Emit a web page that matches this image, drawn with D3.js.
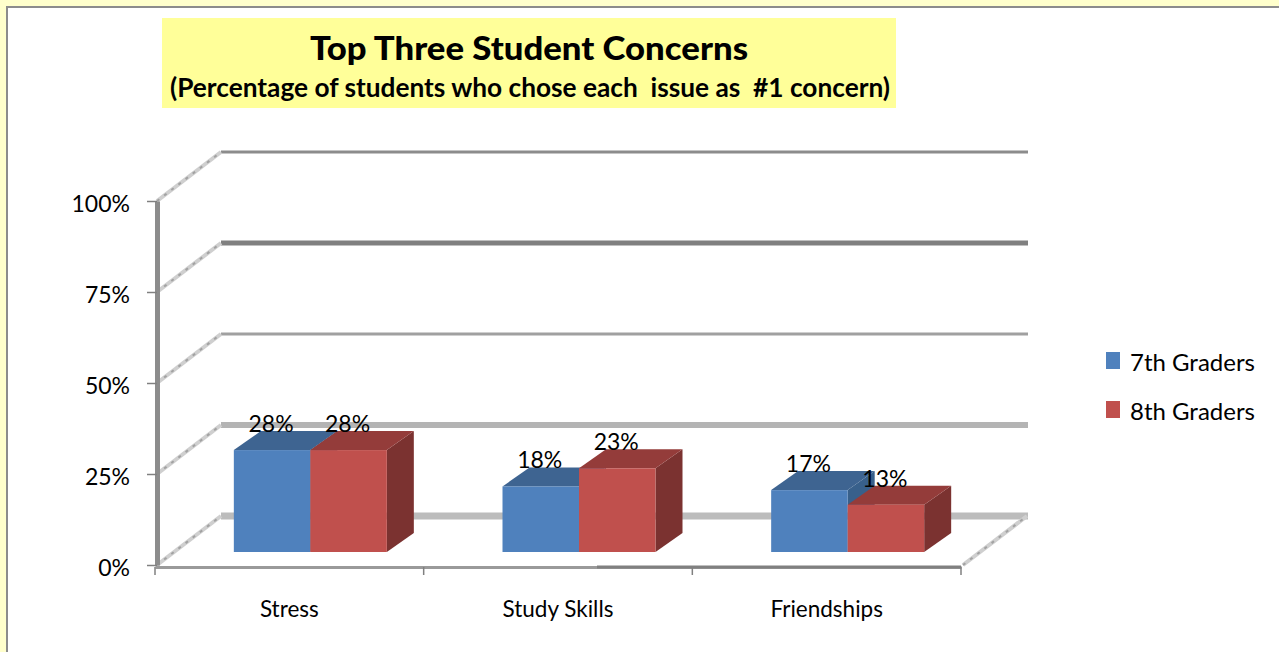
<!DOCTYPE html>
<html>
<head>
<meta charset="utf-8">
<script src="https://cdn.jsdelivr.net/npm/d3@7"></script>
<style>
body { margin: 0; background: #ffffcc; }
text { font-family: Lato, "Open Sans", sans-serif; fill: #000; }
</style>
</head>
<body>
<svg id="chart" width="1279" height="652"></svg>
<script>
var categories = ["Stress", "Study Skills", "Friendships"];
var seriesNames = ["7th Graders", "8th Graders"];
var grade7 = [28, 18, 17];
var grade8 = [28, 23, 13];
var yTicks = [0, 25, 50, 75, 100];
var titleText = "Top Three Student Concerns";
var subtitleText = "(Percentage of students who chose each  issue as  #1 concern)";

// colours for front, top and side of each series
var faces = [
    { front: "#4f81bd", top: "#3e6491", side: "#38608b" },
    { front: "#c0504d", top: "#943c3a", side: "#7b3230" }
];

var svg = d3.select("#chart");

// panel behind everything
svg.append("rect")
    .attr("x", 7).attr("y", 7)
    .attr("width", 1300).attr("height", 700)
    .attr("fill", "#fff")
    .attr("stroke", "#8c8c8c")
    .attr("stroke-width", 2);

// title box
svg.append("rect")
    .attr("x", 162).attr("y", 18)
    .attr("width", 734).attr("height", 90)
    .attr("fill", "#ffff99");

svg.append("text")
    .text(titleText)
    .attr("x", 310).attr("y", 60)
    .attr("font-size", 33)
    .attr("font-weight", 900)
    .attr("textLength", 438)
    .attr("lengthAdjust", "spacingAndGlyphs");

svg.append("text")
    .text(subtitleText)
    .attr("xml:space", "preserve")
    .style("white-space", "pre")
    .attr("x", 170).attr("y", 97)
    .attr("font-size", 26)
    .attr("font-weight", 700)
    .attr("textLength", 720)
    .attr("lengthAdjust", "spacingAndGlyphs");

var xScale = d3.scaleBand()
    .domain(categories)
    .range([155, 961]);

var yScale = d3.scaleLinear()
    .domain([0, 100])
    .range([565, 201]);

var innerScale = d3.scaleBand()
    .domain(seriesNames)
    .range([0, 153]);

// depth of the fake 3d box
var wallDx = 64, wallDy = -49;
var barDx = 27, barDy = -19;
var barShiftX = 21 + (xScale.bandwidth() - 153) / 2;
var barShiftY = -13;

// back wall gridlines
var wallStyle = {
    0: { w: 7, c: "#bcbcbc" },
    25: { w: 6, c: "#b4b4b4" },
    50: { w: 3, c: "#a0a0a0" },
    75: { w: 5, c: "#808080" },
    100: { w: 3, c: "#8c8c8c" }
};

var wall = svg.append("g").attr("class", "wall");

wall.selectAll("line.grid")
    .data(yTicks)
    .enter()
    .append("line")
    .attr("class", "grid")
    .attr("x1", 157 + wallDx)
    .attr("x2", 1028)
    .attr("y1", function(d) { return yScale(d) + wallDy; })
    .attr("y2", function(d) { return yScale(d) + wallDy; })
    .attr("stroke", function(d) { return wallStyle[d].c; })
    .attr("stroke-width", function(d) { return wallStyle[d].w; });

// rough looking side lines, left side plus the one floor edge on the right
var sideLines = yTicks.map(function(d) {
    return { x1: 157, y1: yScale(d), x2: 157 + wallDx, y2: yScale(d) + wallDy };
});
sideLines.push({ x1: 963, y1: yScale(0), x2: 963 + wallDx, y2: yScale(0) + wallDy });

wall.selectAll("line.side")
    .data(sideLines)
    .enter()
    .append("line")
    .attr("class", "side")
    .attr("x1", function(d) { return d.x1; })
    .attr("y1", function(d) { return d.y1; })
    .attr("x2", function(d) { return d.x2; })
    .attr("y2", function(d) { return d.y2; })
    .attr("stroke", "#cfcfcf")
    .attr("stroke-width", 4);

wall.selectAll("line.sideDash")
    .data(sideLines)
    .enter()
    .append("line")
    .attr("class", "sideDash")
    .attr("x1", function(d) { return d.x1; })
    .attr("y1", function(d) { return d.y1; })
    .attr("x2", function(d) { return d.x2; })
    .attr("y2", function(d) { return d.y2; })
    .attr("stroke", "#a2a2a2")
    .attr("stroke-width", 2)
    .attr("stroke-dasharray", "3 6");

// bars, blue first so red sits on top of its side face
var allSeries = [grade7, grade8];

var polyPoints = function(pts) {
    return pts.map(function(p) { return p.join(","); }).join(" ");
};

var drawBars = function(values, idx) {
    var name = seriesNames[idx];
    var g = svg.append("g").attr("class", "series" + idx);
    var w = innerScale.bandwidth();
    var left = function(i) { return xScale(categories[i]) + barShiftX + innerScale(name); };
    var top = function(v) { return yScale(v) + barShiftY; };
    var base = yScale(0) + barShiftY;

    g.selectAll("polygon.side")
        .data(values)
        .enter()
        .append("polygon")
        .attr("class", "side")
        .attr("fill", faces[idx].side)
        .attr("points", function(v, i) {
            var r = left(i) + w;
            return polyPoints([[r, top(v)], [r + barDx, top(v) + barDy], [r + barDx, base + barDy], [r, base]]);
        });

    g.selectAll("polygon.top")
        .data(values)
        .enter()
        .append("polygon")
        .attr("class", "top")
        .attr("fill", faces[idx].top)
        .attr("points", function(v, i) {
            var l = left(i);
            return polyPoints([[l, top(v)], [l + barDx, top(v) + barDy], [l + w + barDx, top(v) + barDy], [l + w, top(v)]]);
        });

    g.selectAll("rect")
        .data(values)
        .enter()
        .append("rect")
        .attr("x", function(v, i) { return left(i); })
        .attr("y", function(v) { return top(v); })
        .attr("width", w)
        .attr("height", function(v) { return base - top(v); })
        .attr("fill", faces[idx].front);
};

allSeries.forEach(drawBars);

// data labels go after both series, 13% sits over the blue side
allSeries.forEach(function(values, idx) {
    svg.append("g").selectAll("text")
        .data(values)
        .enter()
        .append("text")
        .text(function(v) { return v + "%"; })
        .attr("x", function(v, i) {
            return xScale(categories[i]) + barShiftX + innerScale(seriesNames[idx]) + innerScale.bandwidth() / 2 - 1;
        })
        .attr("y", function(v) { return yScale(v) + barShiftY - 18; })
        .attr("text-anchor", "middle")
        .attr("font-size", 23);
});

// axes
var yAxis = d3.axisLeft(yScale)
    .tickValues(yTicks)
    .tickFormat(function(d) { return d + "%"; })
    .tickSize(10)
    .tickSizeOuter(0)
    .tickPadding(17);

var yG = svg.append("g")
    .attr("transform", "translate(157,0)")
    .call(yAxis);
yG.select(".domain").attr("stroke", "#8c8c8c").attr("stroke-width", 5);
yG.selectAll(".tick line").attr("stroke", "#808080").attr("stroke-width", 1.5);
yG.selectAll(".tick text")
    .attr("dy", "0.44em")
    .attr("font-size", 23)
    .attr("font-family", "Lato")
    .attr("fill", "#000");

var xAxis = d3.axisBottom(xScale)
    .tickSize(0)
    .tickSizeOuter(0)
    .tickPadding(34);

var xG = svg.append("g")
    .attr("transform", "translate(0,567)")
    .call(xAxis);
xG.select(".domain").attr("stroke", "#9a9a9a").attr("stroke-width", 3);
xG.selectAll(".tick text")
    .attr("font-size", 22.5)
    .attr("font-family", "Lato")
    .attr("fill", "#000");

// darker right part of the floor edge
xG.append("line")
    .attr("x1", 597).attr("x2", 961)
    .attr("stroke", "#808080")
    .attr("stroke-width", 3);

// ticks on the band edges, axisBottom puts them in the middle
var edgeTicks = categories.map(function(c) { return xScale(c); });
edgeTicks.push(xScale(categories[2]) + xScale.bandwidth());
xG.selectAll("line.edge")
    .data(edgeTicks)
    .enter()
    .append("line")
    .attr("class", "edge")
    .attr("x1", function(d) { return d; })
    .attr("x2", function(d) { return d; })
    .attr("y1", 0)
    .attr("y2", 8)
    .attr("stroke", "#808080")
    .attr("stroke-width", 1.5);

// legend
var legendY = d3.scalePoint()
    .domain(seriesNames)
    .range([352, 401]);

var legend = svg.append("g").attr("class", "legend");

legend.selectAll("rect")
    .data(seriesNames)
    .enter()
    .append("rect")
    .attr("x", 1106)
    .attr("y", function(d) { return legendY(d); })
    .attr("width", 14)
    .attr("height", 17)
    .attr("fill", function(d, i) { return faces[i].front; });

legend.selectAll("text")
    .data(seriesNames)
    .enter()
    .append("text")
    .text(function(d) { return d; })
    .attr("x", 1130)
    .attr("y", function(d) { return legendY(d) + 19; })
    .attr("font-size", 23)
    .attr("textLength", 125)
    .attr("lengthAdjust", "spacingAndGlyphs");
</script>
</body>
</html>
